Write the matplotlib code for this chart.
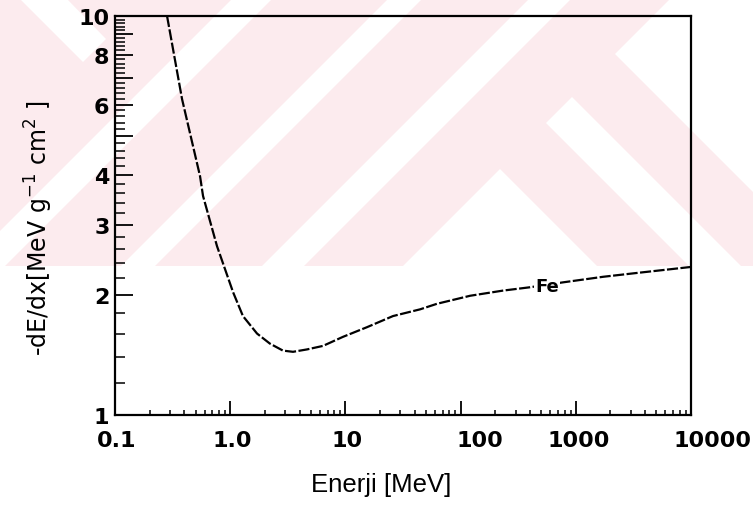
import matplotlib
matplotlib.use("Agg")
import matplotlib.pyplot as plt
from matplotlib.patches import Polygon, Rectangle
from matplotlib.ticker import FixedLocator, NullFormatter

# stopping power of Fe vs kinetic energy
energy = [0.283, 0.382, 0.547, 0.581, 0.768, 0.902, 1.06, 1.29, 1.71, 2.21,
          2.87, 3.51, 4.64, 6.39, 9.53, 15.4, 25.9, 44.5, 62.4, 121,
          233, 400, 774, 1722, 3396, 10000]
dedx = [10.0, 6.19, 3.97, 3.54, 2.65, 2.32, 2.03, 1.77, 1.60, 1.51,
        1.45, 1.44, 1.46, 1.49, 1.57, 1.66, 1.77, 1.84, 1.90, 1.99,
        2.05, 2.09, 2.15, 2.22, 2.27, 2.35]

x_ticks = [0.1, 1, 10, 100, 1000, 10000]
x_labels = ["0.1", "1.0", "10", "100", "1000", "10000"]
x_label_shift = [2, 2, 2, 19, 3, 21]   # pixels, labels sit a bit off their ticks
x_minor = [m * d for d in [0.1, 1, 10, 100, 1000] for m in range(2, 10)]

y_ticks = [1, 2, 3, 4, 5, 6, 7, 8, 9, 10]
y_labels = ["1", "2", "3", "4", "", "6", "", "8", "", "10"]
y_minor = [round(v / 10, 1) for v in range(12, 100, 2) if v % 10 != 0]

W, H = 753, 506
fig = plt.figure(figsize=(W / 100, H / 100), dpi=100)

# faint striped background band across the upper part of the page
bg = fig.add_axes([0, 0, 1, 1], zorder=0)
bg.set_xlim(0, W)
bg.set_ylim(H, 0)
bg.axis("off")
pink = "#fcebee"
band = Rectangle((0, 0), W, 267, facecolor=pink, edgecolor="none")
bg.add_patch(band)


def stripe_fwd(a, b):
    # band of "/" direction: a <= X + Y <= b
    return [(a, 0), (b, 0), (b - 400, 400), (a - 400, 400)]


def stripe_back(a, b, cap):
    # band of "\" direction: a <= X - Y <= b, limited to X + Y >= cap
    return [((cap + a) / 2, (cap - a) / 2), ((cap + b) / 2, (cap - b) / 2),
            (b + 400, 400), (a + 400, 400)]


white_shapes = [
    stripe_fwd(232, 272),
    stripe_fwd(388, 422),
    stripe_fwd(529, 571),
    stripe_back(422, 474, 670),
    [(335, 335), (500, 170), (900, 570), (335, 570)],
    [(615, 55), (670, 0), (900, 0), (900, 340)],
    [(20, 0), (67, 0), (106, 40), (83, 63)],
]
for pts in white_shapes:
    p = Polygon(pts, closed=True, facecolor="white", edgecolor="none")
    bg.add_patch(p)
    p.set_clip_path(band)

ax = fig.add_axes([115 / W, 1 - 416 / H, 576 / W, 399 / H], zorder=1)
ax.set_facecolor("none")

ax.plot(energy, dedx, color="black", lw=1.6, linestyle=(0, (5, 1.1)),
        solid_capstyle="butt")

ax.set_xscale("log")
ax.set_yscale("log")
ax.set_xlim(0.1, 10000)
ax.set_ylim(1, 10)

ax.xaxis.set_major_locator(FixedLocator(x_ticks))
ax.xaxis.set_minor_locator(FixedLocator(x_minor))
ax.xaxis.set_minor_formatter(NullFormatter())
ax.tick_params(axis="x", which="both", direction="in", labelbottom=False,
               top=False)
ax.tick_params(axis="x", which="major", length=10, width=1.3)
ax.tick_params(axis="x", which="minor", length=3.6, width=1.1)

ax.set_yticks(y_ticks, labels=y_labels)
ax.yaxis.set_minor_locator(FixedLocator(y_minor))
ax.yaxis.set_minor_formatter(NullFormatter())
ax.tick_params(axis="y", which="both", direction="in", right=False)
ax.tick_params(axis="y", which="major", length=13, width=1.3, pad=4,
               labelsize=16)
ax.tick_params(axis="y", which="minor", length=7, width=1.1)
for lbl in ax.get_yticklabels():
    lbl.set_fontfamily("DejaVu Sans")
    lbl.set_fontweight("bold")

for val, txt, dx in zip(x_ticks, x_labels, x_label_shift):
    ax.annotate(txt, xy=(val, 0), xycoords=("data", "axes fraction"),
                xytext=(dx, -15), textcoords="offset pixels",
                ha="center", va="top", fontsize=16, fontweight="bold",
                family="DejaVu Sans")

for side in ax.spines.values():
    side.set_linewidth(1.6)
    side.set_color("black")

plt.rcParams["mathtext.default"] = "regular"
ax.set_ylabel("-dE/dx[MeV g$^{-1}$ cm$^{2}$ ]", fontsize=17,
              family="DejaVu Sans")
ax.yaxis.set_label_coords(-0.105, 0.47)
ax.set_xlabel("Enerji [MeV]", fontsize=18.5, family="Liberation Sans",
              va="top")
ax.xaxis.set_label_coords(0.462, -0.143)

ax.text(562, 2.10, "Fe", fontsize=13, fontweight="bold", family="DejaVu Sans",
        ha="center", va="center",
        bbox=dict(facecolor="white", edgecolor="none", pad=1))

fig.savefig("out.png", dpi=100)
